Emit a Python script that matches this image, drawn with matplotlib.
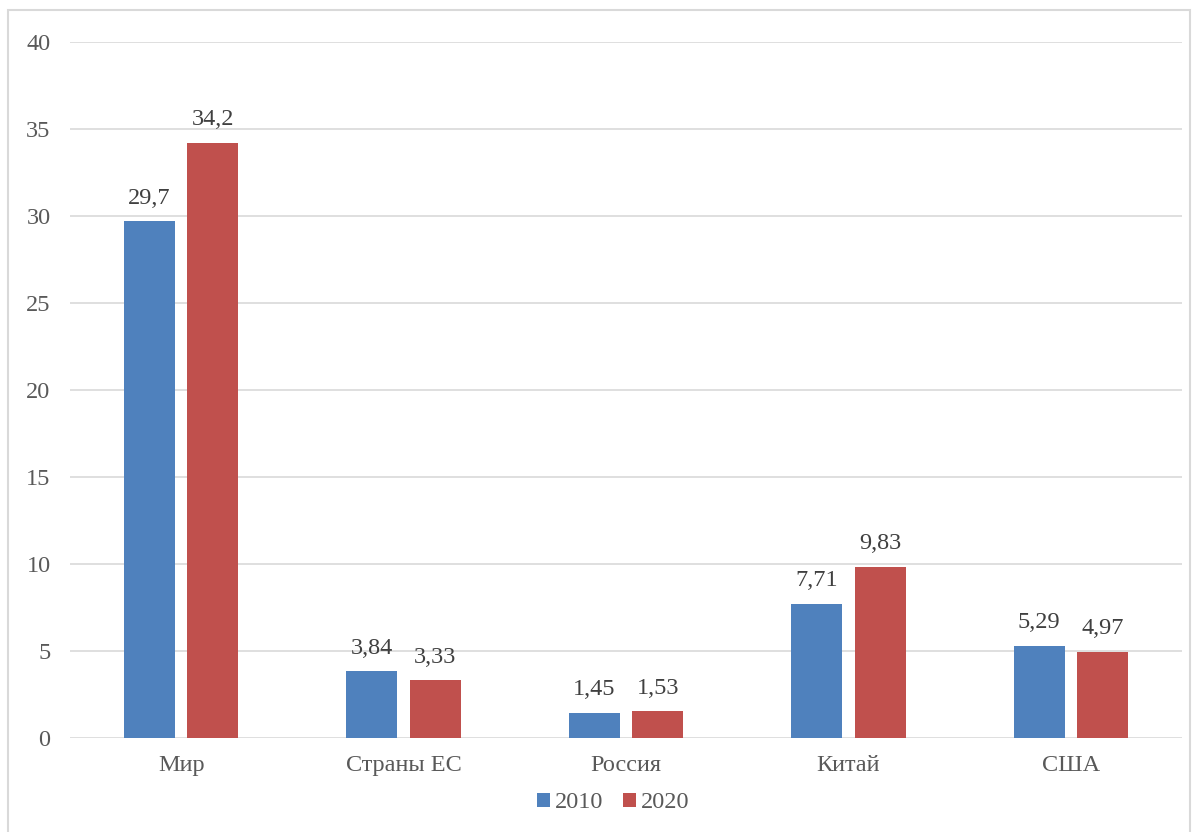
import numpy as np
import matplotlib.pyplot as plt
from matplotlib.patches import Rectangle

categories = ["Мир", "Страны ЕС", "Россия", "Китай", "США"]
values_2010 = [29.7, 3.84, 1.45, 7.71, 5.29]
values_2020 = [34.2, 3.33, 1.53, 9.83, 4.97]
labels_2010 = ["29,7", "3,84", "1,45", "7,71", "5,29"]
labels_2020 = ["34,2", "3,33", "1,53", "9,83", "4,97"]
series_names = ["2010", "2020"]
yticks = [0, 5, 10, 15, 20, 25, 30, 35, 40]

plt.rcParams['font.family'] = ['Liberation Serif', 'DejaVu Serif']
text_color = '#595959'
fs = 17.5

fig = plt.figure(figsize=(11.98, 8.32), dpi=100)
ax = fig.add_axes([70 / 1198, 1 - 738 / 832, 1112 / 1198, 696 / 832])

x = np.arange(len(categories))
w = 0.23
off = 0.1425
b1 = ax.bar(x - off, values_2010, w, color='#4F81BD', label=series_names[0], zorder=3)
b2 = ax.bar(x + off, values_2020, w, color='#C0504D', label=series_names[1], zorder=3)

# value labels above bars, with comma decimals
for bars, labs in ((b1, labels_2010), (b2, labels_2020)):
    for rect, lab in zip(bars, labs):
        ax.annotate(lab, (rect.get_x() + rect.get_width() / 2, rect.get_height()),
                    xytext=(0, 9), textcoords='offset points', ha='center', va='bottom',
                    fontsize=fs, color='#404040')

ax.set_xlim(-0.5, len(categories) - 0.5)
ax.set_ylim(0, 40)
ax.set_yticks(yticks)
ax.set_yticklabels([str(t) for t in yticks])
ax.set_xticks(x)
ax.set_xticklabels(categories)
ax.tick_params(axis='both', length=0, labelsize=fs, labelcolor=text_color)
ax.tick_params(axis='y', pad=14)
ax.tick_params(axis='x', pad=12)
ax.grid(axis='y', color='#D9D9D9', linewidth=1.2, zorder=0)
for s in ax.spines.values():
    s.set_visible(False)

fig.legend(handles=[b1, b2], loc='center', bbox_to_anchor=(613 / 1198, 1 - 803 / 832),
           ncol=2, frameon=False, fontsize=fs, handlelength=0.55, handleheight=0.55,
           handletextpad=0.2, columnspacing=0.8, labelcolor=text_color)

# light frame around the whole chart
fig.patches.append(Rectangle((8 / 1198, -0.05), 1182 / 1198, 1 - 10 / 832 + 0.05,
                             transform=fig.transFigure, fill=False,
                             edgecolor='#D9D9D9', linewidth=1.5))

fig.savefig('out.png', dpi=100)
